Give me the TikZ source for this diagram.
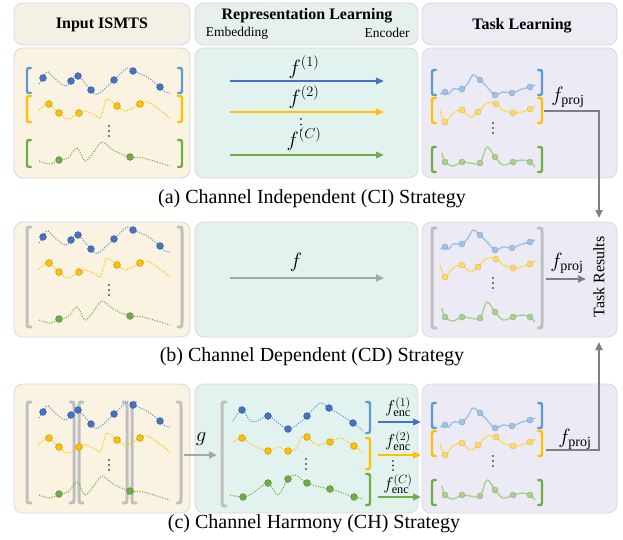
\documentclass[tikz,border=0pt]{standalone}
\usepackage{fontspec}
\setmainfont{Liberation Serif}
\usetikzlibrary{arrows.meta}
\definecolor{cblue}{HTML}{4472C4}
\definecolor{cbluel}{HTML}{5B9BD5}
\definecolor{cbluet}{HTML}{9DC3E6}
\definecolor{cyel}{HTML}{FFC000}
\definecolor{cyelt}{HTML}{FFD966}
\definecolor{cgrn}{HTML}{70AD47}
\definecolor{cgrnt}{HTML}{A9D18E}
\definecolor{bgin}{HTML}{FBF3E2}
\definecolor{bgrep}{HTML}{E2F3EF}
\definecolor{bgtask}{HTML}{ECEBF5}
\definecolor{hdin}{HTML}{F4F0E5}
\definecolor{hdrep}{HTML}{E6F1EE}
\definecolor{hdtask}{HTML}{EDECF4}
\definecolor{brd}{HTML}{D9D9D9}
\definecolor{gbr}{HTML}{BFBFBF}
\definecolor{garr}{HTML}{A6A6A6}
\definecolor{gproj}{HTML}{7F7F7F}
\tikzset{
  panel/.style={draw=brd, line width=0.8pt, rounded corners=9pt},
  dotline/.style={line width=1.1pt, dash pattern=on 1.1pt off 1.5pt},
  brk/.style={line width=2.4pt, line cap=round},
  gbrk/.style={gbr, line width=3pt, line cap=round},
  idot/.style={line width=0.4pt},
  tline/.style={line width=1.4pt},
  hdr/.style={font=\bfseries\fontsize{16}{19}\selectfont},
  subtxt/.style={font=\fontsize{13.5}{16}\selectfont},
  captxt/.style={font=\fontsize{20}{24}\selectfont},
  mlab/.style={font=\fontsize{20}{24}\selectfont},
  elab/.style={font=\fontsize{17.5}{20}\selectfont, inner sep=0pt},
  arr/.style={line width=2pt, -{Triangle[length=8pt,width=6.5pt]}},
  garrow/.style={garr, line width=2.6pt, -{Triangle[length=8pt,width=7pt]}},
  parrow/.style={gproj, line width=2.4pt, -{Triangle[length=8pt,width=7pt]}},
}
\newcommand\lbrk[4]{\draw[#4] ({#1+4},#2) .. controls (#1,#2) .. (#1,{#2+5}) -- (#1,{#3-5}) .. controls (#1,#3) .. ({#1+4},#3);}
\newcommand\rbrk[4]{\draw[#4] ({#1-4},#2) .. controls (#1,#2) .. (#1,{#2+5}) -- (#1,{#3-5}) .. controls (#1,#3) .. ({#1-4},#3);}
\newcommand\vdts[3]{\foreach \k in {0,1,2} \fill (#1,{#2+\k*#3}) circle[radius=0.9pt];}
% input series, row a coordinates
\newcommand\inseries[1]{%
\begin{scope}[shift={(0,#1)}]
 \draw[dotline, cbluel] plot[smooth, tension=0.55] coordinates {(39,84) (47,72) (53,77) (65,86) (71,81) (78,76) (91,90) (98,94) (114,80) (127,68) (133,71) (147,77) (160,87) (165,92) (170,93)};
 \foreach \x/\y in {43/78,71/81,78/76,91/90,114/80,133/71,160/87}
   \filldraw[idot, fill=cblue, draw=cblue!75!black] (\x,\y) circle[radius=3.4pt];
 \draw[dotline, cyel] plot[smooth, tension=0.55] coordinates {(39,110) (45,105) (49,104) (59,113) (68,119) (79,113) (85,111) (95,115) (100,118) (104,107) (107,99) (117,106) (125,111) (133,108) (140,104) (148,102) (160,110) (170,118)};
 \foreach \x/\y in {49/104,59/113,79/113,117/106,140/104}
   \filldraw[idot, fill=cyel, draw=cyel!75!black] (\x,\y) circle[radius=3.4pt];
 \draw[dotline, cgrn] plot[smooth, tension=0.55] coordinates {(39,161) (50,164) (59,160) (68,158) (77,148) (85,161) (93,153) (102,142) (113,150) (130,157) (143,158) (170,166)};
 \foreach \x/\y in {59/160,130/157}
   \filldraw[idot, fill=cgrn, draw=cgrn!75!black] (\x,\y) circle[radius=3.4pt];
 \vdts{109}{126}{5}
\end{scope}}
% task series, row b coordinates
\newcommand\taskseries[1]{%
\begin{scope}[shift={(0,#1)}]
 \draw[tline, cbluet] plot[smooth, tension=0.55] coordinates {(440,249) (445,247) (449,249) (453,244) (462,244) (468,238) (473,230) (480,235) (487,242) (495,250) (503,247) (512,248) (522,244) (530,242) (535,240)};
 \foreach \x/\y in {445/247,462/244,480/235,495/250,512/248,530/242}
   \filldraw[idot, fill=cbluet, draw=cbluet!85!black] (\x,\y) circle[radius=3pt];
 \draw[tline, cyelt] plot[smooth, tension=0.55] coordinates {(440,265) (445,277) (453,268) (462,265) (470,272) (478,267) (487,258) (496,259) (503,265) (513,268) (522,267) (530,264) (536,261)};
 \foreach \x/\y in {445/277,462/265,478/267,496/259,513/268,530/264}
   \filldraw[idot, fill=cyelt, draw=cyelt!85!black] (\x,\y) circle[radius=3pt];
 \draw[tline, cgrnt] plot[smooth, tension=0.55] coordinates {(442,308) (445,317) (453,321) (462,317) (470,318) (480,318) (487,302) (495,312) (503,320) (513,317) (522,315) (530,317) (535,322)};
 \foreach \x/\y in {445/317,462/317,480/318,495/312,513/317,530/317}
   \filldraw[idot, fill=cgrnt, draw=cgrnt!85!black] (\x,\y) circle[radius=3pt];
 \vdts{493}{278}{5}
\end{scope}}
\newcommand\taskbrk[1]{%
\begin{scope}[shift={(0,#1)}]
 \lbrk{432}{225}{250}{brk, cbluel} \rbrk{542}{225}{250}{brk, cbluel}
 \lbrk{432}{253}{278}{brk, cyel} \rbrk{542}{253}{278}{brk, cyel}
 \lbrk{432}{302}{327}{brk, cgrn} \rbrk{542}{302}{327}{brk, cgrn}
\end{scope}}
\begin{document}
\begin{tikzpicture}[x=1pt,y=-1pt]
\useasboundingbox (0,0) rectangle (623,539);
\fill[white] (0,0) rectangle (623,539);
% headers
\draw[panel, fill=hdin] (14,3) rectangle (190,45);
\draw[panel, fill=hdrep] (195,3) rectangle (418,45);
\draw[panel, fill=hdtask] (422,3) rectangle (617,45);
\node[hdr] (hin) at (102,25) {Input ISMTS};
\node[hdr] (hrep) at (307,16) {Representation Learning};
\node[subtxt] (hemb) at (237,33) {Embedding};
\node[subtxt] (henc) at (387,33) {Encoder};
\node[hdr] (htask) at (522,26) {Task Learning};
% panels
\foreach \ya/\yb in {48/178,222/337,384/513}{
  \draw[panel, fill=bgin] (14,\ya) rectangle (190,\yb);
  \draw[panel, fill=bgrep] (195,\ya) rectangle (418,\yb);
  \draw[panel, fill=bgtask] (422,\ya) rectangle (617,\yb);
}
% ---------- row a ----------
\lbrk{27}{68}{93}{brk, cbluel} \rbrk{182}{68}{93}{brk, cbluel}
\lbrk{27}{96}{122}{brk, cyel} \rbrk{182}{96}{122}{brk, cyel}
\lbrk{27}{140}{167}{brk, cgrn} \rbrk{182}{140}{167}{brk, cgrn}
\inseries{0}
\coordinate (a1s) at (230,81); \coordinate (a1e) at (384,81);
\coordinate (a2s) at (230,112); \coordinate (a2e) at (384,112);
\coordinate (a3s) at (230,155); \coordinate (a3e) at (384,155);
\draw[arr, cblue] (a1s) -- (a1e);
\draw[arr, cyel] (a2s) -- (a2e);
\draw[arr, cgrn] (a3s) -- (a3e);
\node[mlab] (fa1) at (304,67) {$f^{(1)}$};
\node[mlab] (fa2) at (304,97) {$f^{(2)}$};
\vdts{301}{119}{5.5}
\node[mlab] (fa3) at (304,139) {$f^{(C)}$};
\taskbrk{-155}
\taskseries{-155}
\coordinate (pa0) at (544,111); \coordinate (pa1) at (599,111); \coordinate (tra) at (599,218);
\draw[parrow] (pa0) -- (pa1) -- (tra);
\node[mlab] (fpa) at (568,97) {$f_{\mathrm{proj}}$};
\node[captxt] (capa) at (312,199) {(a) Channel Independent (CI) Strategy};
% ---------- row b ----------
\lbrk{27}{227}{327}{gbrk} \rbrk{182}{227}{327}{gbrk}
\inseries{159}
\coordinate (bs) at (230,278); \coordinate (be) at (384,278);
\draw[garrow] (bs) -- (be);
\node[mlab] (fb) at (296,262) {$f$};
\lbrk{432}{228}{328}{gbrk} \rbrk{542}{228}{328}{gbrk}
\taskseries{0}
\coordinate (pb0) at (546,279); \coordinate (pb1) at (586,279);
\draw[parrow] (pb0) -- (pb1);
\node[mlab] (fpb) at (567,263) {$f_{\mathrm{proj}}$};
\node[font=\fontsize{16}{19}\selectfont, rotate=90] (tres) at (599,277) {Task Results};
\node[captxt] (capb) at (312,357) {(b) Channel Dependent (CD) Strategy};
% ---------- row c ----------
\lbrk{27}{402}{503}{gbrk}
\rbrk{74}{402}{503}{gbrk} \lbrk{79}{402}{503}{gbrk}
\rbrk{127}{402}{503}{gbrk} \lbrk{132}{402}{503}{gbrk}
\rbrk{181}{402}{503}{gbrk}
\inseries{334}
\coordinate (gs) at (184,455); \coordinate (ge) at (217,455);
\draw[garrow] (gs) -- (ge);
\node[mlab] (gl) at (201,439) {$g$};
% rep row c
\lbrk{222}{402}{506}{gbrk}
\rbrk{370}{402}{433}{brk, cbluel}
\rbrk{370}{438}{469}{brk, cyel}
\rbrk{370}{474}{505}{brk, cgrn}
\draw[dotline, cbluel] plot[smooth, tension=0.55] coordinates {(233,421) (242,410) (252,422) (268,416) (278,423) (288,429) (298,424) (307,416) (320,403) (329,408) (341,415) (353,423) (363,431)};
\foreach \x/\y in {242/410,268/416,288/429,307/416,329/408,353/423}
  \filldraw[idot, fill=cblue, draw=cblue!75!black] (\x,\y) circle[radius=3.4pt];
\draw[dotline, cyel] plot[smooth, tension=0.55] coordinates {(233,442) (242,438) (252,445) (268,451) (278,447) (288,451) (297,448) (301,437) (307,437) (317,445) (330,442) (340,438) (354,446) (363,453)};
\foreach \x/\y in {242/438,268/451,288/451,307/437,330/442,354/446}
  \filldraw[idot, fill=cyel, draw=cyel!75!black] (\x,\y) circle[radius=3.4pt];
\draw[dotline, cgrn] plot[smooth, tension=0.55] coordinates {(230,495) (243,497) (253,493) (268,483) (278,495) (288,479) (295,475) (307,483) (320,487) (330,489) (343,493) (354,497) (363,499)};
\foreach \x/\y in {243/497,268/483,288/479,307/483,330/489,354/497}
  \filldraw[idot, fill=cgrn, draw=cgrn!75!black] (\x,\y) circle[radius=3.4pt];
\vdts{306}{459}{5}
\coordinate (c1s) at (378,422); \coordinate (c1e) at (421,422);
\coordinate (c2s) at (378,455); \coordinate (c2e) at (421,455);
\coordinate (c3s) at (378,497); \coordinate (c3e) at (421,497);
\draw[arr, cblue] (c1s) -- (c1e);
\draw[arr, cyel] (c2s) -- (c2e);
\draw[arr, cgrn] (c3s) -- (c3e);
\node[elab] (fe1) at (398,407) {$f^{(1)}_{\mathrm{enc}}$};
\node[elab] (fe2) at (398,441) {$f^{(2)}_{\mathrm{enc}}$};
\vdts{393}{461}{4.5}
\node[elab] (fe3) at (398,484) {$f^{(C)}_{\mathrm{enc}}$};
\taskbrk{178}
\taskseries{178}
\coordinate (pc0) at (546,450); \coordinate (pc1) at (599,450); \coordinate (trc) at (599,342);
\draw[parrow] (pc0) -- (pc1) -- (trc);
\node[mlab] (fpc) at (575,439) {$f_{\mathrm{proj}}$};
\node[captxt] (capc) at (314,524) {(c) Channel Harmony (CH) Strategy};
\end{tikzpicture}
\end{document}
